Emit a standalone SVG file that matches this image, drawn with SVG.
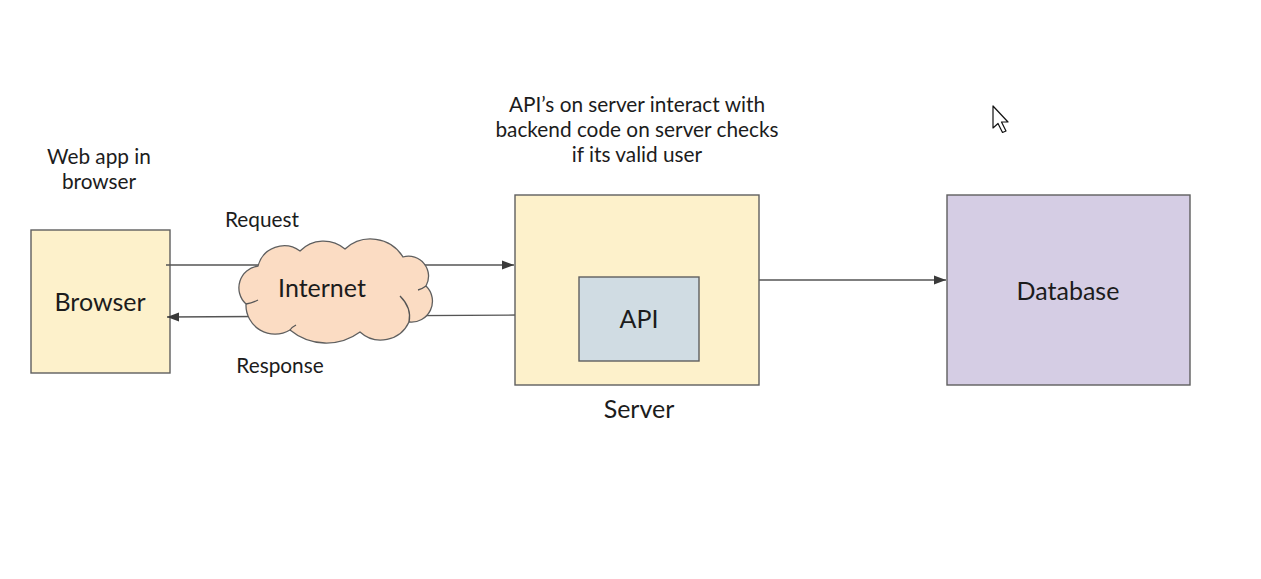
<svg xmlns="http://www.w3.org/2000/svg" width="1261" height="579" viewBox="0 0 1261 579">
<style>
.box{stroke:#5f5f5f;stroke-width:1.4}
.t{font-family:Lato,"Open Sans","Liberation Sans",sans-serif;fill:#1c1c1c;text-anchor:middle}
.lbl{font-size:20.8px}
.big{font-size:25px}
.ln{stroke:#555;stroke-width:1.3;fill:none}
</style>
<defs>
<marker id="ah" viewBox="0 0 12 10" refX="12" refY="5" markerWidth="12" markerHeight="10" markerUnits="userSpaceOnUse" orient="auto">
<path d="M0,0.5 L12,5 L0,9.5 z" fill="#3a3a3a"/>
</marker>
</defs>
<rect width="1261" height="579" fill="#fff"/>
<g id="browser">
<rect class="box" x="31" y="230" width="139" height="143" fill="#fdf1cb"/>
<text class="t big" x="100" y="311">Browser</text>
</g>
<g id="browser-caption">
<text class="t lbl" x="99" y="164">Web app in</text>
<text class="t lbl" x="99" y="189">browser</text>
</g>
<g id="connectors">
<line class="ln" x1="166" y1="265" x2="514" y2="265" marker-end="url(#ah)"/>
<line class="ln" x1="517" y1="315" x2="167" y2="317" marker-end="url(#ah)"/>
<line class="ln" x1="759" y1="280" x2="946" y2="280" marker-end="url(#ah)"/>
</g>
<g id="internet">
<path d="M246,304 A22,22 0 0 1 258,266 A27,27 0 0 1 300,251 A33,33 0 0 1 345,249 A38,38 0 0 1 403,257 A20,20 0 0 1 426,286 A21,21 0 0 1 409,322 A31,31 0 0 1 360,332 A57,57 0 0 1 290,330 A29,29 0 0 1 246,304 Z" fill="#fbdcc3" stroke="#5f5f5f" stroke-width="1.3"/>
<path d="M246,304 Q252,303 258,300" class="ln"/>
<path d="M409,322 Q412,308 400,296" class="ln"/>
<path d="M290,330 Q292,327 296,325" class="ln"/>
<path d="M426,286 Q422,289 418,290" class="ln"/>
<text class="t big" x="322" y="297">Internet</text>
</g>
<g id="request-label"><text class="t lbl" x="262" y="227">Request</text></g>
<g id="response-label"><text class="t lbl" x="280" y="373">Response</text></g>
<g id="server-caption">
<text class="t lbl" x="637" y="112">API’s on server interact with</text>
<text class="t lbl" x="637" y="137">backend code on server checks</text>
<text class="t lbl" x="637" y="162">if its valid user</text>
</g>
<g id="server">
<rect class="box" x="515" y="195" width="244" height="190" fill="#fdf1cb"/>
<text class="t big" x="639" y="418">Server</text>
</g>
<g id="api">
<rect class="box" x="579" y="277" width="120" height="84" fill="#d0dce3"/>
<text class="t big" x="639" y="328">API</text>
</g>
<g id="database">
<rect class="box" x="947" y="195" width="243" height="190" fill="#d5cde4"/>
<text class="t big" x="1068" y="300">Database</text>
</g>
<path d="M993,106 L993,128 L998,123.5 L1002.5,132.5 L1006,131 L1001.5,122 L1008,122 Z" fill="#fff" stroke="#111" stroke-width="1.2" stroke-linejoin="round"/>
</svg>
